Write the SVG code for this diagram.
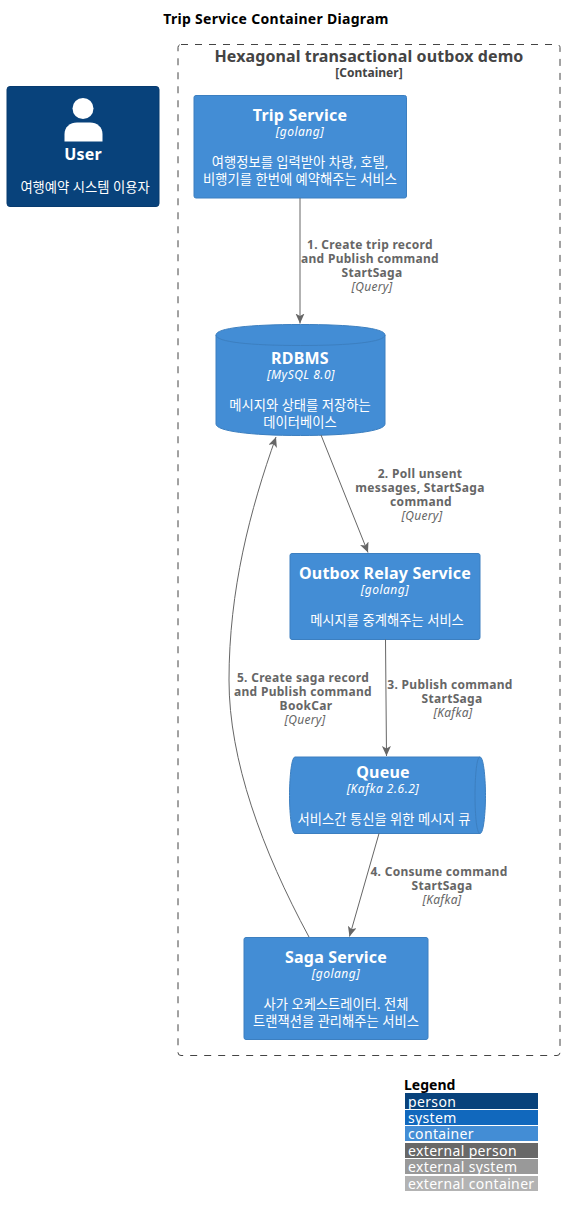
<svg xmlns="http://www.w3.org/2000/svg" width="565" height="1214" viewBox="0 0 565 1214">
<style>
text{font-family:"Noto Sans","Noto Sans CJK KR",sans-serif;text-anchor:middle}
.n{fill:#438dd5;stroke:#3c7fc0;stroke-width:1}
.t{fill:#fff;font-size:16px;font-weight:bold;letter-spacing:.2px}
.s{fill:#fff;font-size:12px;font-style:italic;letter-spacing:.5px}
.d{fill:#fff;font-size:13.300px}
.l{fill:#666;font-size:12px;font-weight:bold;letter-spacing:.3px}
.q{fill:#666;font-size:12px;font-style:italic;letter-spacing:.3px}
.c{fill:none;stroke:#666;stroke-width:1}
.g{fill:#fff;font-size:14px;text-anchor:start;letter-spacing:.35px}
</style>
<defs><marker id="a" markerUnits="userSpaceOnUse" markerWidth="12" markerHeight="12" refX="10" refY="4.500" orient="auto"><path d="M0 0L10 4.500L0 9L2.500 4.500Z" fill="#666"/></marker></defs>
<text x="276" y="24" style="font-size:14px;font-weight:bold;letter-spacing:.3px" fill="#000">Trip Service Container Diagram</text>
<g id="boundary">
<rect x="178" y="44.500" width="382" height="1011" rx="3" fill="none" stroke="#444" stroke-dasharray="7 7"/>
<text x="369" y="62" style="font-size:16px;font-weight:bold;letter-spacing:.1px" fill="#444">Hexagonal transactional outbox demo</text>
<text x="369" y="77" style="font-size:12px;font-weight:bold" fill="#444">[Container]</text>
</g>
<g id="user">
<rect x="7" y="86.500" width="152" height="120" rx="3" fill="#08427b" stroke="#073b6f"/>
<circle cx="83" cy="108.500" r="10.500" fill="#fff"/>
<path d="M64.500 141.500V134C64.500 127 70 122.500 77 122.500H90C97 122.500 102.500 127 102.500 134V141.500Z" fill="#fff"/>
<text class="t" x="83" y="160">User</text>
<text class="d" x="85" y="192">여행예약 시스템 이용자</text>
</g>
<g id="trip-service">
<rect class="n" x="194" y="95.500" width="212.500" height="102.500" rx="2"/>
<text class="t" x="300" y="121">Trip Service</text>
<text class="s" x="300" y="136">[golang]</text>
<text class="d" x="300" y="167">여행정보를 입력받아 차량, 호텔,</text>
<text class="d" x="300" y="184">비행기를 한번에 예약해주는 서비스</text>
</g>
<g id="rdbms">
<path class="n" d="M216 335C216 328 250 324.500 300.500 324.500C351 324.500 385 328 385 335V424C385 431 351 435.500 300.500 435.500C250 435.500 216 431 216 424Z"/>
<path d="M216 335C216 342 250 345.500 300.500 345.500C351 345.500 385 342 385 335" fill="none" stroke="#3c7fc0"/>
<text class="t" x="300" y="364">RDBMS</text>
<text class="s" x="301" y="379">[MySQL 8.0]</text>
<text class="d" x="300" y="410">메시지와 상태를 저장하는</text>
<text class="d" x="300" y="427">데이터베이스</text>
</g>
<g id="outbox-relay">
<rect class="n" x="290" y="553.500" width="190" height="86" rx="2"/>
<text class="t" x="385" y="579">Outbox Relay Service</text>
<text class="s" x="385" y="594">[golang]</text>
<text class="d" x="387" y="625">메시지를 중계해주는 서비스</text>
</g>
<g id="queue">
<path class="n" d="M295 757H480C484 757 485.500 782 485.500 795.500C485.500 809 484 833.500 480 833.500H295C291 833.500 289.500 809 289.500 795.500C289.500 782 291 757 295 757Z"/>
<path d="M480 757C476 757 475 782 475 795.500C475 809 476 833.500 480 833.500" fill="none" stroke="#3c7fc0"/>
<text class="t" x="383" y="778">Queue</text>
<text class="s" x="383" y="793">[Kafka 2.6.2]</text>
<text class="d" x="384" y="824">서비스간 통신을 위한 메시지 큐</text>
</g>
<g id="saga-service">
<rect class="n" x="244" y="937.500" width="184" height="102" rx="2"/>
<text class="t" x="336" y="963">Saga Service</text>
<text class="s" x="336" y="978">[golang]</text>
<text class="d" x="336" y="1009">사가 오케스트레이터. 전체</text>
<text class="d" x="336" y="1026">트랜잭션을 관리해주는 서비스</text>
</g>
<g id="connectors">
<path class="c" marker-end="url(#a)" d="M300 198V323.500"/>
<path class="c" marker-end="url(#a)" d="M321 435L368 552.500"/>
<path class="c" marker-end="url(#a)" d="M385.500 639.500L386.500 756"/>
<path class="c" marker-end="url(#a)" d="M379 833.500L349.500 936.500"/>
<path class="c" marker-end="url(#a)" d="M309 937C262 850 229 760 229 680C229 590 250 510 276 437"/>
<text class="l" x="370" y="249">1. Create trip record</text>
<text class="l" x="370" y="263">and Publish command</text>
<text class="l" x="372" y="277">StartSaga</text>
<text class="q" x="372" y="291">[Query]</text>
<text class="l" x="420" y="478">2. Poll unsent</text>
<text class="l" x="420" y="492">messages, StartSaga</text>
<text class="l" x="421" y="506">command</text>
<text class="q" x="422" y="520">[Query]</text>
<text class="l" x="450" y="689">3. Publish command</text>
<text class="l" x="452" y="703">StartSaga</text>
<text class="q" x="453" y="717">[Kafka]</text>
<text class="l" x="303" y="682">5. Create saga record</text>
<text class="l" x="303" y="696">and Publish command</text>
<text class="l" x="306" y="710">BookCar</text>
<text class="q" x="305" y="724">[Query]</text>
<text class="l" x="439" y="876">4. Consume command</text>
<text class="l" x="442" y="890">StartSaga</text>
<text class="q" x="442" y="904">[Kafka]</text>
</g>
<g id="legend">
<text x="404" y="1090" style="font-size:14px;font-weight:bold;text-anchor:start" fill="#000">Legend</text>
<rect x="405" y="1093" width="133" height="16" fill="#08427b"/><text class="g" x="408" y="1107">person</text>
<rect x="405" y="1110" width="133" height="15" fill="#1168bd"/><text class="g" x="408" y="1123">system</text>
<rect x="405" y="1126" width="133" height="15" fill="#438dd5"/><text class="g" x="408" y="1139">container</text>
<rect x="405" y="1143" width="133" height="15" fill="#686868"/><text class="g" x="408" y="1156">external person</text>
<rect x="405" y="1159" width="133" height="15" fill="#999"/><text class="g" x="408" y="1172">external system</text>
<rect x="405" y="1176" width="133" height="15" fill="#b3b3b3"/><text class="g" x="408" y="1189">external container</text>
</g>
</svg>
